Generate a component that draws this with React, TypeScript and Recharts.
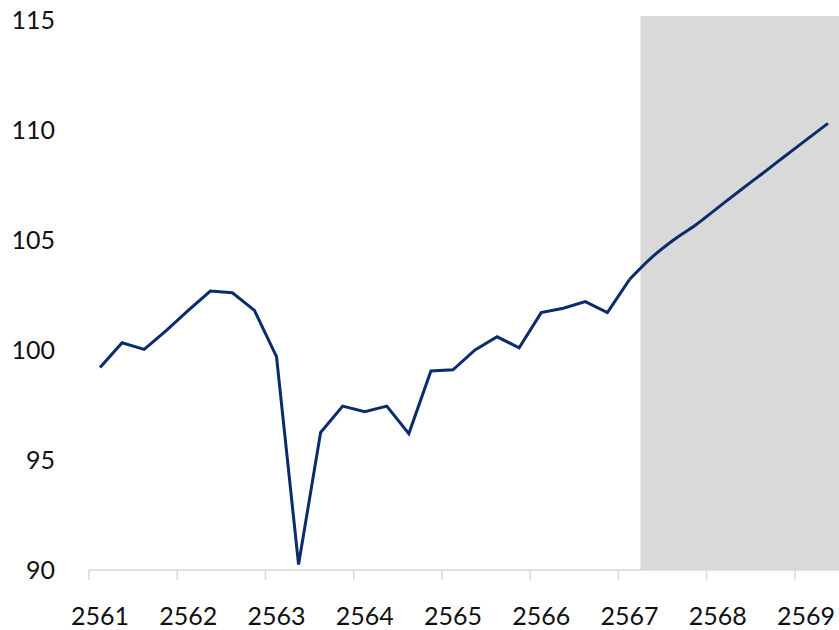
import { ComposedChart, Line, XAxis, YAxis, ReferenceArea } from 'recharts';

// years shown on the axis, one every 4 quarters
const yearLabels = ['2561', '2562', '2563', '2564', '2565', '2566', '2567', '2568', '2569'];

// quarterly index, actual values (q 0..24)
const actualValues = [
  99.2, 100.33, 100.03, 100.88, 101.8, 102.68, 102.6, 101.8,
  99.7, 90.25, 96.25, 97.45, 97.2, 97.45, 96.2, 99.05,
  99.1, 100.0, 100.6, 100.1, 101.7, 101.9, 102.2, 101.7,
  103.2,
];

// forecast values (q 24..33), first one shared with the actual line
const forecastValues = [103.2, 104.2, 105.0, 105.68, 106.46, 107.24, 108.0, 108.77, 109.54, 110.3];

const forecastFrom = 24; // index where forecast line starts
const shadeFrom = 25; // first forecast-only quarter (shaded)

const yTicks = [90, 95, 100, 105, 110, 115];

const total = forecastFrom + forecastValues.length;
const data = Array.from({ length: total }, (_, i) => ({
  q: i,
  actual: i < actualValues.length ? actualValues[i] : null,
  forecast: i >= forecastFrom ? forecastValues[i - forecastFrom] : null,
}));

const yearTicks = yearLabels.map((_, i) => i * 4);
const boundaryTicks = yearLabels.map((_, i) => i * 4 - 0.5);

const fontStyle = { fontFamily: 'Lato, sans-serif', fontSize: 25, fill: '#111' };

export default function App() {
  return (
    <div style={{ position: 'absolute', left: 0, top: 0, background: '#fff' }}>
      <ComposedChart width={839} height={630} data={data} margin={{ top: 16, right: 0, left: 0, bottom: 0 }}>
        <YAxis
          domain={[90, 115.18]}
          ticks={yTicks}
          width={89}
          axisLine={false}
          tickLine={false}
          tickSize={0}
          tickMargin={34}
          tick={fontStyle}
          interval={0}
        />
        <ReferenceArea
          xAxisId="lines"
          x1={shadeFrom - 0.5}
          x2={total - 0.5}
          y1={90}
          y2={115.18}
          fill="#d9d9d9"
          fillOpacity={1}
          stroke="none"
        />
        {/* tick marks at year boundaries, no labels */}
        <XAxis
          xAxisId="lines"
          dataKey="q"
          type="number"
          domain={[-0.5, total - 0.5]}
          ticks={boundaryTicks}
          tickFormatter={() => ''}
          height={10}
          tickSize={10}
          axisLine={{ stroke: '#d9d9d9', strokeWidth: 1.5 }}
          tickLine={{ stroke: '#d9d9d9', strokeWidth: 1.5 }}
          interval={0}
        />
        <XAxis
          xAxisId="years"
          dataKey="q"
          type="number"
          domain={[-0.5, total - 0.5]}
          ticks={yearTicks}
          tickFormatter={(v: number) => yearLabels[v / 4]}
          height={50}
          axisLine={false}
          tickLine={false}
          tickSize={0}
          tickMargin={27}
          tick={fontStyle}
          interval={0}
        />
        <Line
          xAxisId="lines"
          type="linear"
          dataKey="actual"
          stroke="#0a2c6b"
          strokeWidth={3}
          dot={false}
          isAnimationActive={false}
        />
        <Line
          xAxisId="lines"
          type="monotone"
          dataKey="forecast"
          stroke="#0a2c6b"
          strokeWidth={3}
          dot={false}
          isAnimationActive={false}
        />
      </ComposedChart>
    </div>
  );
}
